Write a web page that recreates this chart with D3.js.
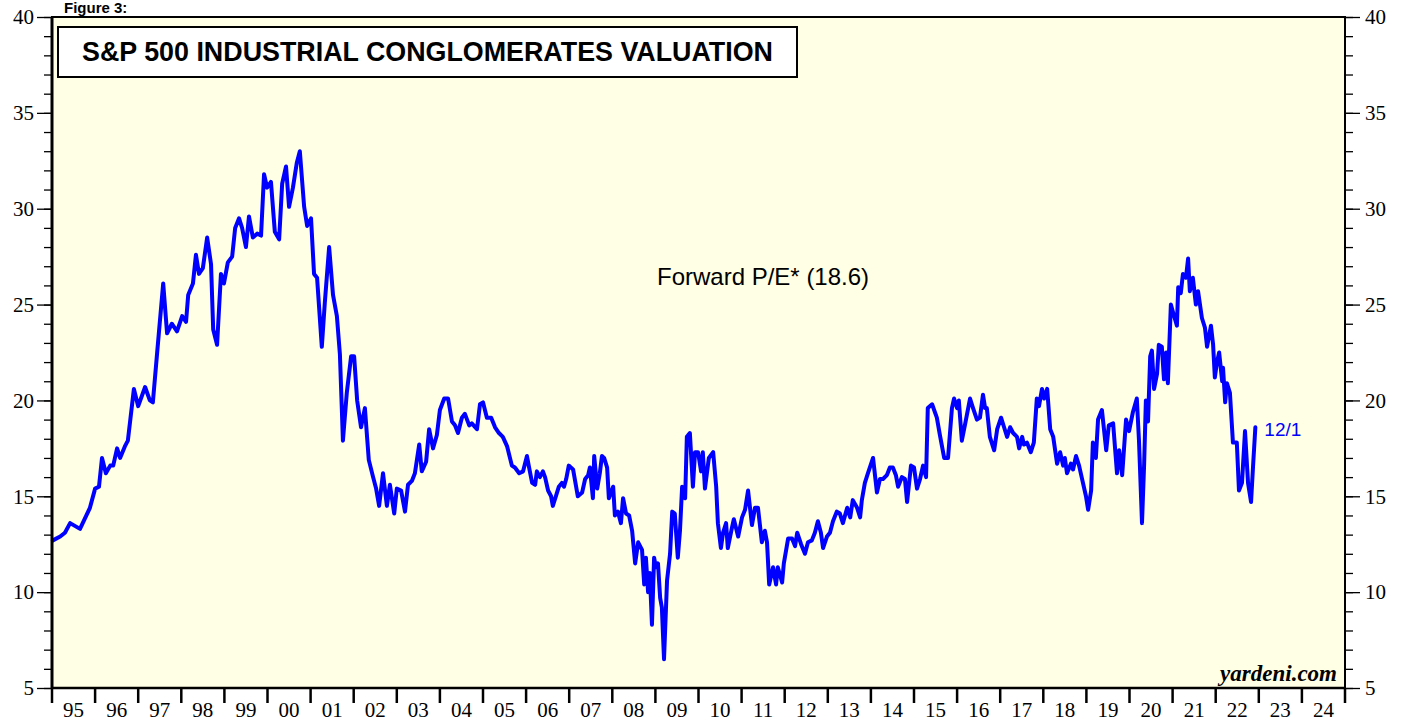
<!DOCTYPE html>
<html lang="en">

<head>
  <meta charset="UTF-8">
  <title>S&P 500 Industrial Conglomerates Valuation</title>
  <style>
    body {
      margin: 0;
      background: #fff;
    }
  </style>
</head>

<body>
  <div id="main"></div>
</body>

</html>
<script src="https://d3js.org/d3.v7.min.js"></script>

<script>
  // data: forward P/E (decimal year, value)
  let dates = [
    1995.02, 1995.19, 1995.30, 1995.42, 1995.65, 1995.88, 1996.00, 1996.09, 1996.16, 1996.25,
    1996.35, 1996.42, 1996.51, 1996.58, 1996.69, 1996.76, 1996.90, 1997.00, 1997.16, 1997.27,
    1997.34, 1997.44, 1997.58, 1997.67, 1997.78, 1997.90, 1998.02, 1998.11, 1998.16, 1998.27,
    1998.34, 1998.41, 1998.50, 1998.60, 1998.69, 1998.74, 1998.83, 1998.92, 1998.99, 1999.08,
    1999.18, 1999.25, 1999.34, 1999.41, 1999.50, 1999.57, 1999.66, 1999.76, 1999.85, 1999.92,
    1999.99, 2000.08, 2000.17, 2000.27, 2000.34, 2000.43, 2000.50, 2000.59, 2000.68, 2000.75,
    2000.85, 2000.92, 2001.01, 2001.08, 2001.15, 2001.26, 2001.33, 2001.43, 2001.52, 2001.61,
    2001.68, 2001.75, 2001.84, 2001.94, 2002.01, 2002.08, 2002.17, 2002.26, 2002.35, 2002.45,
    2002.52, 2002.59, 2002.68, 2002.77, 2002.84, 2002.94, 2003.00, 2003.10, 2003.19, 2003.26,
    2003.35, 2003.42, 2003.52, 2003.58, 2003.68, 2003.75, 2003.84, 2003.93, 2004.00, 2004.10,
    2004.19, 2004.28, 2004.35, 2004.42, 2004.51, 2004.58, 2004.68, 2004.74, 2004.86, 2004.93,
    2005.00, 2005.09, 2005.19, 2005.28, 2005.37, 2005.46, 2005.56, 2005.67, 2005.74, 2005.84,
    2005.93, 2006.02, 2006.07, 2006.14, 2006.21, 2006.25, 2006.32, 2006.39, 2006.44, 2006.51,
    2006.58, 2006.62, 2006.69, 2006.76, 2006.83, 2006.88, 2006.93, 2006.99, 2007.09, 2007.13,
    2007.20, 2007.30, 2007.37, 2007.44, 2007.48, 2007.55, 2007.58, 2007.65, 2007.71, 2007.76,
    2007.81, 2007.88, 2007.92, 2008.02, 2008.06, 2008.13, 2008.20, 2008.25, 2008.32, 2008.39,
    2008.46, 2008.53, 2008.60, 2008.69, 2008.74, 2008.78, 2008.83, 2008.87, 2008.92, 2008.97,
    2009.01, 2009.06, 2009.11, 2009.15, 2009.20, 2009.27, 2009.34, 2009.39, 2009.45, 2009.52,
    2009.57, 2009.62, 2009.69, 2009.73, 2009.80, 2009.87, 2009.92, 2009.99, 2010.06, 2010.10,
    2010.15, 2010.24, 2010.34, 2010.41, 2010.45, 2010.52, 2010.57, 2010.64, 2010.68, 2010.78,
    2010.82, 2010.92, 2011.01, 2011.08, 2011.15, 2011.24, 2011.31, 2011.38, 2011.47, 2011.54,
    2011.59, 2011.64, 2011.73, 2011.80, 2011.84, 2011.94, 2011.98, 2012.08, 2012.17, 2012.24,
    2012.29, 2012.38, 2012.47, 2012.54, 2012.63, 2012.70, 2012.77, 2012.84, 2012.89, 2012.98,
    2013.05, 2013.12, 2013.21, 2013.28, 2013.35, 2013.45, 2013.52, 2013.58, 2013.68, 2013.75,
    2013.79, 2013.86, 2013.93, 2014.05, 2014.14, 2014.21, 2014.28, 2014.37, 2014.44, 2014.51,
    2014.58, 2014.63, 2014.72, 2014.79, 2014.84, 2014.93, 2015.00, 2015.07, 2015.14, 2015.21,
    2015.28, 2015.32, 2015.42, 2015.53, 2015.60, 2015.70, 2015.79, 2015.88, 2015.93, 2016.00,
    2016.04, 2016.11, 2016.18, 2016.30, 2016.37, 2016.46, 2016.53, 2016.60, 2016.65, 2016.69,
    2016.76, 2016.86, 2016.93, 2017.02, 2017.09, 2017.16, 2017.23, 2017.30, 2017.39, 2017.44,
    2017.51, 2017.55, 2017.62, 2017.71, 2017.78, 2017.85, 2017.90, 2017.97, 2018.02, 2018.09,
    2018.16, 2018.23, 2018.32, 2018.39, 2018.46, 2018.50, 2018.55, 2018.64, 2018.69, 2018.76,
    2018.83, 2018.92, 2018.99, 2019.04, 2019.11, 2019.15, 2019.22, 2019.27, 2019.36, 2019.46,
    2019.52, 2019.62, 2019.71, 2019.76, 2019.83, 2019.92, 2019.99, 2020.08, 2020.17, 2020.22,
    2020.29, 2020.34, 2020.38, 2020.43, 2020.48, 2020.52, 2020.57, 2020.64, 2020.68, 2020.75,
    2020.80, 2020.85, 2020.89, 2020.96, 2021.01, 2021.10, 2021.13, 2021.19, 2021.24, 2021.31,
    2021.36, 2021.40, 2021.47, 2021.54, 2021.59, 2021.68, 2021.75, 2021.80, 2021.89, 2021.94,
    2021.98, 2022.03, 2022.08, 2022.15, 2022.17, 2022.22, 2022.26, 2022.33, 2022.40, 2022.49,
    2022.54, 2022.61, 2022.68, 2022.75, 2022.82, 2022.87, 2022.92
  ]
  let pe = [
    12.7, 12.9, 13.1, 13.6, 13.3, 14.4, 15.4, 15.5, 17.0, 16.2,
    16.6, 16.6, 17.5, 17.0, 17.6, 17.9, 20.6, 19.7, 20.7, 20.0,
    19.9, 22.5, 26.1, 23.5, 24.0, 23.6, 24.4, 24.1, 25.5, 26.1,
    27.6, 26.6, 26.9, 28.5, 27.1, 23.7, 22.9, 26.6, 26.1, 27.2,
    27.5, 29.0, 29.5, 29.0, 28.0, 29.6, 28.5, 28.7, 28.6, 31.8,
    31.1, 31.4, 28.8, 28.4, 31.3, 32.2, 30.1, 31.1, 32.4, 33.0,
    30.1, 29.1, 29.5, 26.6, 26.4, 22.8, 25.1, 28.0, 25.5, 24.4,
    22.4, 17.9, 20.4, 22.3, 22.3, 20.0, 18.6, 19.6, 16.9, 16.0,
    15.4, 14.5, 16.2, 14.5, 15.6, 14.1, 15.4, 15.3, 14.2, 15.6,
    15.8, 16.2, 17.7, 16.3, 16.8, 18.5, 17.5, 18.2, 19.5, 20.1,
    20.1, 18.9, 18.7, 18.3, 19.1, 19.3, 18.7, 18.8, 18.5, 19.8,
    19.9, 19.1, 19.1, 18.6, 18.3, 18.1, 17.6, 16.6, 16.5, 16.2,
    16.3, 17.1, 16.5, 15.7, 15.6, 16.3, 16.0, 16.3, 16.0, 15.3,
    15.0, 14.5, 15.0, 15.5, 15.7, 15.5, 15.9, 16.6, 16.4, 15.9,
    15.0, 15.2, 15.9, 16.1, 16.5, 14.9, 17.1, 15.4, 16.2, 17.1,
    17.0, 16.5, 14.9, 15.5, 14.0, 14.2, 13.6, 14.9, 14.1, 14.0,
    13.2, 11.5, 12.6, 12.2, 10.4, 11.8, 10.0, 11.0, 8.3, 11.8,
    11.3, 11.5, 9.7, 9.2, 6.5, 10.6, 12.0, 14.2, 14.1, 11.8,
    13.2, 15.5, 14.9, 18.1, 18.3, 15.5, 17.3, 17.3, 16.3, 17.3,
    15.4, 17.0, 17.3, 15.5, 13.6, 12.3, 13.1, 13.6, 12.3, 13.4,
    13.8, 12.9, 13.9, 14.3, 15.3, 13.5, 14.4, 14.4, 12.6, 13.2,
    12.6, 10.4, 11.3, 10.4, 11.3, 10.5, 11.5, 12.8, 12.8, 12.4,
    13.1, 12.5, 12.0, 12.6, 12.7, 13.1, 13.7, 13.1, 12.3, 12.9,
    13.1, 13.7, 14.2, 14.1, 13.6, 14.4, 13.9, 14.8, 14.4, 13.9,
    14.8, 15.7, 16.2, 17.0, 15.2, 15.9, 15.9, 16.1, 16.5, 16.5,
    16.1, 15.5, 16.0, 15.9, 14.7, 16.6, 16.5, 15.4, 15.9, 16.6,
    16.0, 19.6, 19.8, 19.1, 18.2, 17.0, 17.0, 19.6, 20.1, 19.6,
    20.0, 17.9, 18.7, 20.1, 19.6, 19.0, 19.1, 20.3, 19.6, 19.6,
    18.1, 17.4, 18.5, 19.1, 18.6, 18.1, 18.6, 18.3, 18.1, 17.5,
    18.1, 17.7, 17.8, 17.3, 17.8, 20.1, 19.7, 20.6, 20.1, 20.6,
    18.5, 18.1, 16.7, 17.3, 16.6, 17.0, 16.2, 16.7, 16.4, 17.1,
    16.6, 15.7, 15.0, 14.3, 15.3, 17.8, 17.0, 19.0, 19.5, 17.4,
    18.7, 18.8, 16.2, 17.4, 16.1, 19.0, 18.4, 19.4, 20.1, 17.9,
    13.6, 16.7, 20.0, 18.9, 22.3, 22.6, 20.6, 21.4, 22.9, 22.8,
    21.1, 22.5, 20.9, 25.0, 24.6, 23.9, 25.9, 25.6, 26.6, 26.4,
    27.4, 25.7, 26.4, 25.0, 25.7, 24.3, 23.8, 22.8, 23.9, 22.9,
    21.2, 22.0, 22.5, 21.0, 21.7, 19.9, 20.9, 20.4, 17.8, 17.8,
    15.3, 15.7, 18.4, 15.7, 14.7, 16.7, 18.6
  ]
  let yearLabels = ['95', '96', '97', '98', '99', '00', '01', '02', '03', '04', '05', '06', '07', '08', '09',
    '10', '11', '12', '13', '14', '15', '16', '17', '18', '19', '20', '21', '22', '23', '24']
  let yTicks = [5, 10, 15, 20, 25, 30, 35, 40]
  let yMinor = d3.range(5, 41, 1)

  let W = 1408, H = 723
  let plotL = 52, plotR = 1345, plotT = 17, plotB = 688
  let blue = '#0000ff'
  let serif = '"Liberation Serif", "Times New Roman", serif'
  let sans = '"Liberation Sans", Arial, sans-serif'

  let svg = d3.select('#main').append('svg')
    .attr('width', W)
    .attr('height', H)
    .style('display', 'block')

  let x = d3.scaleLinear().domain([1995, 2025]).range([plotL, plotR])
  let y = d3.scaleLinear().domain([5, 40]).range([plotB, plotT])

  // 背景 plot area
  function drawFrame() {
    svg.append('rect')
      .attr('x', plotL).attr('y', plotT)
      .attr('width', plotR - plotL).attr('height', plotB - plotT)
      .attr('fill', '#ffffe5')
      .attr('stroke', '#000')
      .attr('stroke-width', 2)
  }

  // left and right y axes, major + minor ticks
  function drawYAxes() {
    let minorL = d3.axisLeft(y).tickValues(yMinor).tickSize(8).tickFormat('')
    let majorL = d3.axisLeft(y).tickValues(yTicks).tickSize(15).tickPadding(3)
    let minorR = d3.axisRight(y).tickValues(yMinor).tickSize(8).tickFormat('')
    let majorR = d3.axisRight(y).tickValues(yTicks).tickSize(15).tickPadding(5)

    let gl = svg.append('g').attr('transform', `translate(${plotL},0)`)
    gl.append('g').call(minorL)
    gl.append('g').call(majorL)
    let gr = svg.append('g').attr('transform', `translate(${plotR},0)`)
    gr.append('g').call(minorR)
    gr.append('g').call(majorR)

    svg.selectAll('.domain').remove()
    svg.selectAll('.tick line').attr('stroke', '#000').attr('stroke-width', 1.3)
    svg.selectAll('.tick text')
      .style('font-family', serif)
      .style('font-size', '21px')
      .attr('fill', '#000')

    // thick left axis line
    svg.append('line')
      .attr('x1', plotL).attr('x2', plotL)
      .attr('y1', plotT).attr('y2', plotB + 1)
      .attr('stroke', '#000').attr('stroke-width', 3)
  }

  // x axis: tick at each year boundary, label in the middle of the year
  function drawXAxis() {
    let years = d3.range(1995, 2026)
    let g = svg.append('g')
    g.append('line')
      .attr('x1', plotL).attr('x2', plotR)
      .attr('y1', plotB).attr('y2', plotB)
      .attr('stroke', '#000').attr('stroke-width', 2.5)
    g.selectAll('.yt').data(years).enter().append('line')
      .attr('x1', d => x(d)).attr('x2', d => x(d))
      .attr('y1', plotB).attr('y2', plotB + 15)
      .attr('stroke', '#000').attr('stroke-width', 2.5)
    g.selectAll('.yl').data(yearLabels).enter().append('text')
      .attr('x', (d, i) => x(1995 + i + 0.5))
      .attr('y', 717)
      .attr('text-anchor', 'middle')
      .style('font-family', serif)
      .style('font-size', '21px')
      .text(d => d)
  }

  // 折线 forward P/E
  function drawLine() {
    let pts = dates.map((d, i) => [d, pe[i]])
    let line = d3.line().x(d => x(d[0])).y(d => y(d[1]))
    svg.append('path')
      .attr('d', line(pts))
      .attr('fill', 'none')
      .attr('stroke', blue)
      .attr('stroke-width', 4)
      .attr('stroke-linejoin', 'round')
      .attr('stroke-linecap', 'round')

    svg.append('text')
      .attr('x', x(dates[dates.length - 1]) + 9)
      .attr('y', y(pe[pe.length - 1]) + 9)
      .attr('fill', blue)
      .style('font-family', sans)
      .style('font-size', '19px')
      .text('12/1')
  }

  // title box and labels
  function drawTexts() {
    svg.append('text')
      .attr('x', 64).attr('y', 13)
      .style('font-family', sans)
      .style('font-weight', 'bold')
      .style('font-size', '15px')
      .text('Figure 3:')

    svg.append('rect')
      .attr('x', 58).attr('y', 27)
      .attr('width', 739).attr('height', 50)
      .attr('fill', '#fff')
      .attr('stroke', '#000')
      .attr('stroke-width', 2)
    svg.append('text')
      .attr('x', 82).attr('y', 61)
      .attr('textLength', 691)
      .attr('lengthAdjust', 'spacingAndGlyphs')
      .style('font-family', sans)
      .style('font-weight', 'bold')
      .style('font-size', '27px')
      .text('S&P 500 INDUSTRIAL CONGLOMERATES VALUATION')

    svg.append('text')
      .attr('x', 657).attr('y', 285)
      .style('font-family', sans)
      .style('font-size', '24px')
      .text('Forward P/E* (18.6)')

    svg.append('text')
      .attr('x', 1337).attr('y', 681)
      .attr('text-anchor', 'end')
      .style('font-family', serif)
      .style('font-weight', 'bold')
      .style('font-style', 'italic')
      .style('font-size', '23px')
      .text('yardeni.com')
  }

  function main() {
    drawFrame()
    drawLine()
    drawYAxes()
    drawXAxis()
    drawTexts()
  }

  main()
</script>
